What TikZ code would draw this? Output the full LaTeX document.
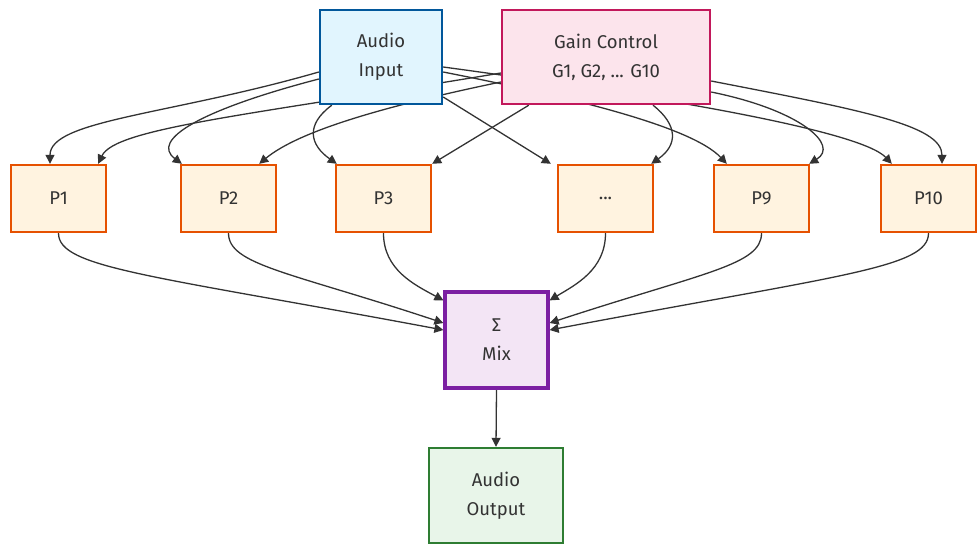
\documentclass[tikz,border=0pt]{standalone}
\usepackage{fontspec}
\setmainfont{Fira Sans}
\usetikzlibrary{calc,arrows.meta,backgrounds}
\definecolor{edgec}{HTML}{333333}
\definecolor{aifill}{HTML}{E1F5FE}\definecolor{aidraw}{HTML}{01579B}
\definecolor{gcfill}{HTML}{FCE4EC}\definecolor{gcdraw}{HTML}{C2185B}
\definecolor{pfill}{HTML}{FFF3E0}\definecolor{pdraw}{HTML}{E65100}
\definecolor{mixfill}{HTML}{F3E5F5}\definecolor{mixdraw}{HTML}{7B1FA2}
\definecolor{outfill}{HTML}{E8F5E9}\definecolor{outdraw}{HTML}{2E7D32}
\tikzset{
  box/.style={rectangle, inner sep=0pt, align=center, text=edgec,
    font=\fontsize{18.5}{29}\selectfont},
  inbox/.style={box, fill=aifill, draw=aidraw, line width=2.4pt, minimum width=122pt, minimum height=94pt},
  gainbox/.style={box, fill=gcfill, draw=gcdraw, line width=2.4pt, minimum width=208pt, minimum height=94pt},
  procbox/.style={box, fill=pfill, draw=pdraw, line width=2.4pt, minimum width=95pt, minimum height=67pt},
  mixbox/.style={box, fill=mixfill, draw=mixdraw, line width=3.2pt, minimum width=103pt, minimum height=96pt},
  outbox/.style={box, fill=outfill, draw=outdraw, line width=2.4pt, minimum width=134pt, minimum height=95pt},
  conn/.style={draw=edgec, line width=1.3pt, -{Triangle[length=9pt,width=9pt]}}
}
\begin{document}
\begin{tikzpicture}[x=1pt,y=-1pt]
\useasboundingbox (0,0) rectangle (977,544);
\node[inbox] (ai) at (381,57) {Audio\\Input};
\node[gainbox] (gc) at (606,57) {Gain Control\\G1, G2, ... G10};
\node[procbox] (p1) at (58.5,198.5) {P1};
\node[procbox] (p2) at (228.5,198.5) {P2};
\node[procbox] (p3) at (383.5,198.5) {P3};
\node[procbox] (pd) at (605.5,198.5) {...};
\node[procbox] (p9) at (761.5,198.5) {P9};
\node[procbox] (p10) at (928.5,198.5) {P10};
\node[mixbox] (mix) at (496.5,340) {Σ\\Mix};
\node[outbox] (out) at (496,495.5) {Audio\\Output};
\begin{scope}[on background layer]
% Audio input -> processors
\draw[conn] ($(ai.west)+(0,15)$) .. controls (170,115) and (50,120) .. ($(p1.north)+(-8.5,0)$);
\draw[conn] ($(ai.west)+(0,22)$) .. controls (200,110) and (150,140) .. ($(p2.north west)+(2,0)$);
\draw[conn] ($(ai.south west)+(13,0)$) .. controls (305,125) and (310,145) .. ($(p3.north west)+(2,0)$);
\draw[conn] ($(ai.east)+(0,40)$) -- ($(pd.north west)+(-6,0)$);
\draw[conn] ($(ai.east)+(0,15)$) .. controls (560,95) and (690,125) .. ($(p9.north west)+(14,0)$);
\draw[conn] ($(ai.east)+(0,10)$) .. controls (650,95) and (860,130) .. ($(p10.north west)+(12,0)$);
% Gain control -> processors
\draw[conn] ($(gc.west)+(0,16)$) .. controls (250,115) and (115,128) .. ($(p1.north east)+(-9,0)$);
\draw[conn] ($(gc.west)+(0,25)$) .. controls (390,105) and (300,130) .. ($(p2.north east)+(-18,0)$);
\draw[conn] ($(gc.south west)+(28,0)$) -- (p3.north east);
\draw[conn] ($(gc.south)+(47,0)$) .. controls (678,125) and (678,145) .. ($(pd.north east)+(-3,0)$);
\draw[conn] ($(gc.east)+(0,35)$) .. controls (800,110) and (840,145) .. ($(p9.north east)+(-1,0)$);
\draw[conn] ($(gc.east)+(0,24)$) .. controls (860,110) and (942,125) .. ($(p10.north)+(13.5,0)$);
% processors -> mix
\draw[conn] (p1.south) .. controls (58.5,268) and (150,275) .. ($(mix.west)+(0,-10)$);
\draw[conn] (p2.south) .. controls (228.5,265) and (290,272) .. ($(mix.west)+(0,-17)$);
\draw[conn] (p3.south) .. controls (383.5,270) and (415,285) .. ($(mix.north west)+(0,10)$);
\draw[conn] (pd.south) .. controls (605.5,270) and (575,285) .. ($(mix.north east)+(0,10)$);
\draw[conn] (p9.south) .. controls (761.5,265) and (705,272) .. ($(mix.east)+(0,-17)$);
\draw[conn] (p10.south) .. controls (928.5,268) and (840,275) .. ($(mix.east)+(0,-10)$);
% mix -> output
\draw[conn] (mix.south) -- (out.north);
\end{scope}
\end{tikzpicture}
\end{document}
